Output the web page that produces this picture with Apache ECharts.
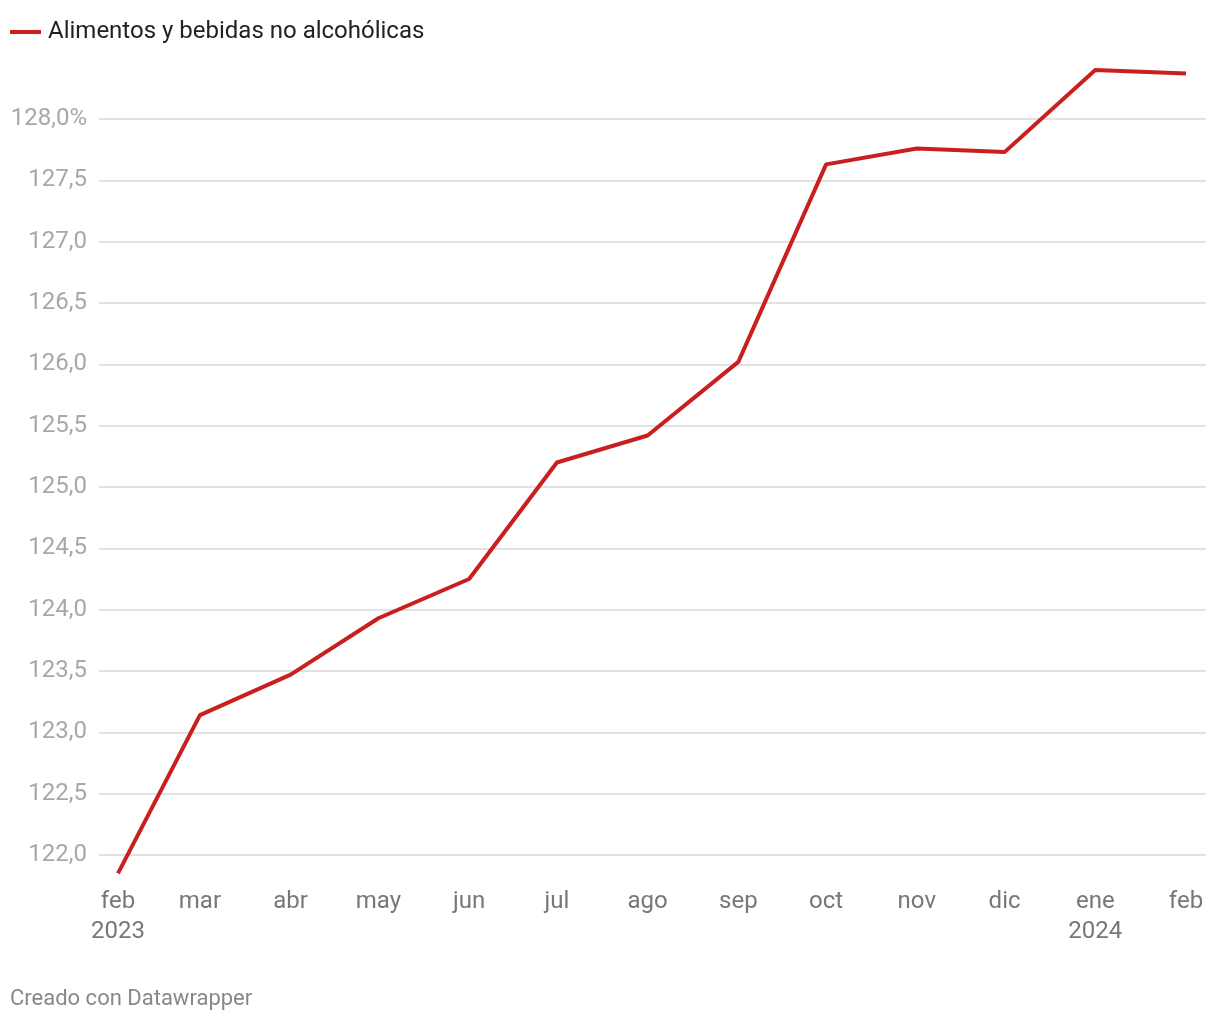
<!DOCTYPE html>
<html>
<head>
<meta charset="utf-8">
<script src="https://cdn.jsdelivr.net/npm/echarts@6/dist/echarts.min.js"></script>
<style>
html,body{margin:0;padding:0;background:#fff;}
#chart{width:1220px;height:1020px;}
</style>
</head>
<body>
<div id="chart"></div>
<script>
var dates = ['2023-02-01','2023-03-01','2023-04-01','2023-05-01','2023-06-01','2023-07-01','2023-08-01','2023-09-01','2023-10-01','2023-11-01','2023-12-01','2024-01-01','2024-02-01'];
var tickLabels = ['feb\n2023','mar','abr','may','jun','jul','ago','sep','oct','nov','dic','ene\n2024','feb'];
var seriesName = 'Alimentos y bebidas no alcohólicas';
var values = [121.85, 123.14, 123.47, 123.93, 124.25, 125.20, 125.42, 126.02, 127.63, 127.76, 127.73, 128.40, 128.37];
var yMin = 122, yMax = 128, yStep = 0.5;
var footer = 'Creado con Datawrapper';

var FONT = 'Roboto';
var DAY = 86400000;
var t0 = new Date(dates[0] + 'T00:00:00Z').getTime();
var days = dates.map(function(d){ return Math.round((new Date(d + 'T00:00:00Z').getTime() - t0) / DAY); });
var seriesData = days.map(function(x, i){ return [x, values[i]]; });
var chart = echarts.init(document.getElementById('chart'), null, {renderer:'canvas'});
function fmtY(v){
  var s = v.toFixed(1).replace('.', ',');
  return v === yMax ? s + '%' : s;
}
function fmtX(v){
  var i = days.indexOf(Math.round(v));
  return i >= 0 ? tickLabels[i] : '';
}
chart.setOption({
  animation:false,
  backgroundColor:'#fff',
  textStyle:{fontFamily:FONT},
  legend:{
    left:10, top:20, padding:0, icon:'rect', itemWidth:31, itemHeight:4,
    textStyle:{fontFamily:FONT, fontSize:24, color:'#222', padding:[0,0,0,2]},
    data:[seriesName]
  },
  grid:[
    {left:118, right:34, top:119, bottom:165},
    {left:99, right:14, top:119, bottom:165}
  ],
  xAxis:[
    {type:'value', gridIndex:0, min:days[0], max:days[days.length-1],
     axisLine:{show:false}, axisTick:{show:false}, splitLine:{show:false},
     axisLabel:{customValues:days, fontFamily:FONT, fontSize:24, color:'#777', margin:32, lineHeight:30,
       showMinLabel:true, showMaxLabel:true, hideOverlap:false, formatter:fmtX}},
    {type:'value', gridIndex:1, show:false}
  ],
  yAxis:[
    {type:'value', gridIndex:0, min:yMin, max:yMax, interval:yStep, show:false},
    {type:'value', gridIndex:1, min:yMin, max:yMax, interval:yStep,
     axisLine:{show:false}, axisTick:{show:false},
     splitLine:{show:true, lineStyle:{color:'#e2e2e2', width:2}},
     axisLabel:{fontFamily:FONT, fontSize:24, color:'#a8a8a8', margin:12, padding:[2,0,0,0], formatter:fmtY}}
  ],
  series:[{
    name:seriesName, type:'line', xAxisIndex:0, yAxisIndex:0,
    data:seriesData, symbol:'none', clip:false,
    lineStyle:{color:'#c91f1f', width:4},
    itemStyle:{color:'#c91f1f'}
  }],
  graphic:[{
    type:'text', left:10, top:988,
    style:{text:footer, fontFamily:FONT, fontSize:22, fill:'#888'}
  }]
});
</script>
</body>
</html>
